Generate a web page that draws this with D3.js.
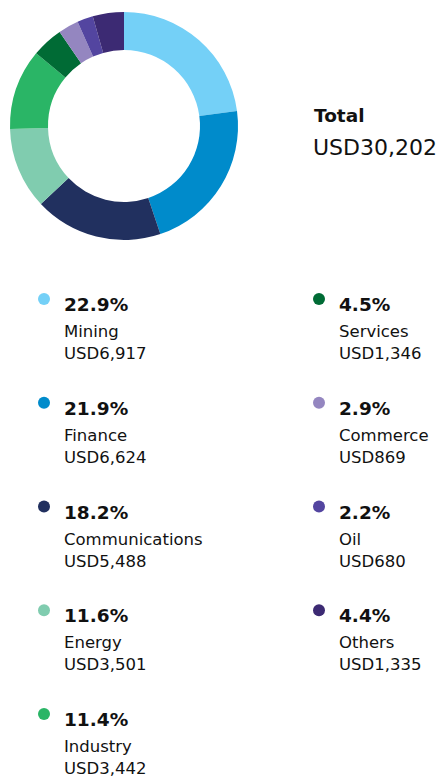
<!DOCTYPE html>
<html>
<head>
<meta charset="utf-8">
<script src="https://cdn.jsdelivr.net/npm/d3@7"></script>
<style>
  body { margin: 0; background: #fff; }
  text { font-family: "DejaVu Sans", sans-serif; fill: #111; }
</style>
</head>
<body>
<div id="chart"></div>
<script>
// sectors, clockwise from 12 o'clock
var sectors = ["Mining", "Finance", "Communications", "Energy", "Industry", "Services", "Commerce", "Oil", "Others"];
var shares = [22.9, 21.9, 18.2, 11.6, 11.4, 4.5, 2.9, 2.2, 4.4];
var amounts = [6917, 6624, 5488, 3501, 3442, 1346, 869, 680, 1335];
var colors = ["#74d0f7", "#008bcb", "#21305f", "#80ccaf", "#2ab566", "#006b35", "#9486c0", "#5345a0", "#3c2a73"];
var total = 30202;

var width = 440, height = 777;

var svg = d3.select("#chart").append("svg")
  .attr("width", width)
  .attr("height", height);

var data = sectors.map(function(s, i) {
  return { name: s, share: shares[i], amount: amounts[i], color: colors[i] };
});

// donut
var pie = d3.pie()
  .sort(null)
  .value(function(d) { return d.amount; });

var arc = d3.arc()
  .innerRadius(76)
  .outerRadius(114);

var donut = svg.append("g")
  .attr("transform", "translate(124,126)");

donut.selectAll("path")
  .data(pie(data))
  .enter()
  .append("path")
  .attr("d", arc)
  .attr("fill", function(d) { return d.data.color; });

// total
var fmt = d3.format(",");

svg.append("text")
  .attr("x", 314)
  .attr("y", 122)
  .attr("font-size", 18.5)
  .attr("font-weight", "bold")
  .text("Total");

svg.append("text")
  .attr("x", 313)
  .attr("y", 155)
  .attr("font-size", 22)
  .text("USD" + fmt(total));

// legend: two columns, first 5 left, rest right
var legend = svg.selectAll(".item")
  .data(data)
  .enter()
  .append("g")
  .attr("class", "item")
  .attr("transform", function(d, i) {
    var col = i < 5 ? 0 : 1;
    var row = i < 5 ? i : i - 5;
    return "translate(" + (col === 0 ? 44 : 319) + "," + (299 + row * 103.75) + ")";
  });

legend.append("circle")
  .attr("r", 6)
  .attr("fill", function(d) { return d.color; });

legend.append("text")
  .attr("x", 20)
  .attr("y", 12)
  .attr("font-size", 18.5)
  .attr("font-weight", "bold")
  .text(function(d) { return d.share.toFixed(1) + "%"; });

legend.append("text")
  .attr("x", 20)
  .attr("y", 38)
  .attr("font-size", 16.5)
  .text(function(d) { return d.name; });

legend.append("text")
  .attr("x", 20)
  .attr("y", 60)
  .attr("font-size", 16.5)
  .text(function(d) { return "USD" + fmt(d.amount); });
</script>
</body>
</html>
